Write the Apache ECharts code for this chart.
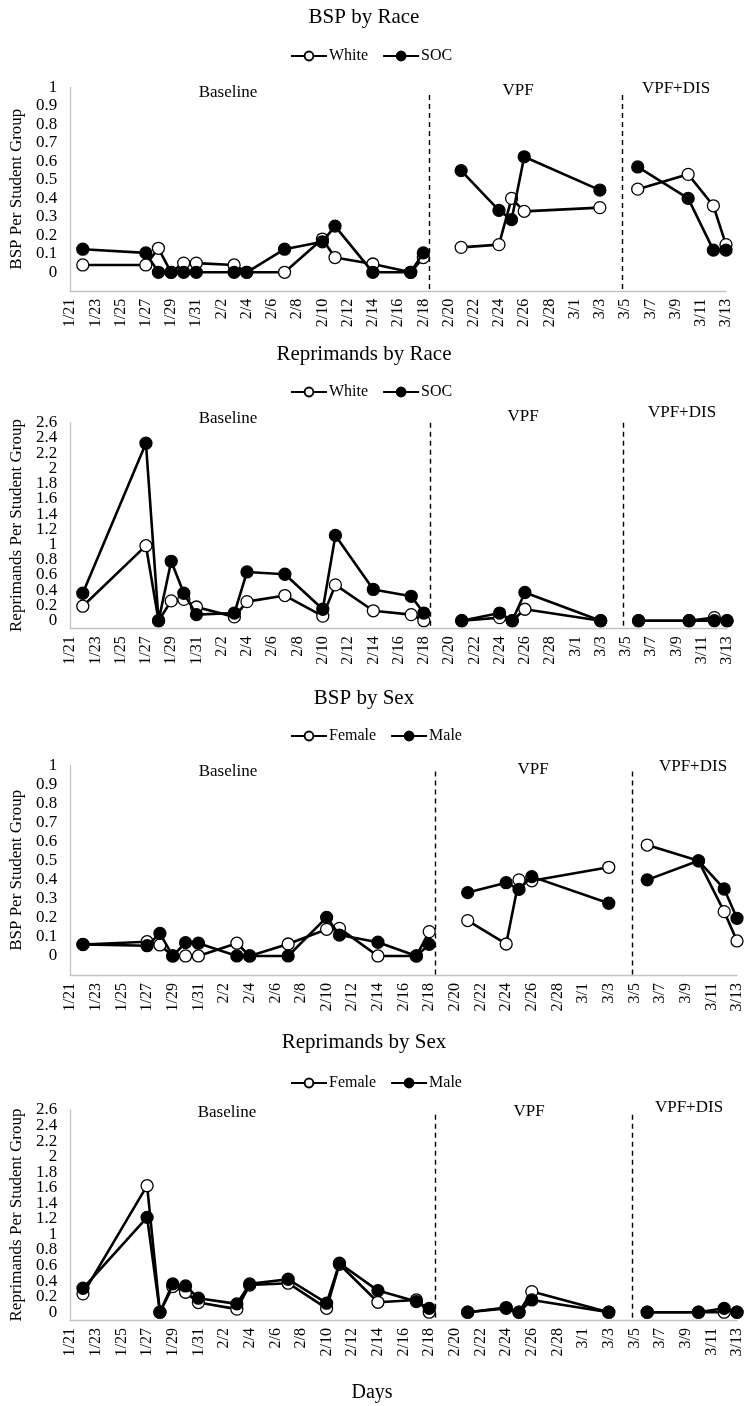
<!DOCTYPE html>
<html>
<head>
<meta charset="utf-8">
<title>BSP and Reprimands</title>
<script src="https://cdn.jsdelivr.net/npm/echarts@6/dist/echarts.min.js"></script>
<style>
  html, body { margin: 0; padding: 0; background: #fff; }
  #chart { width: 745px; height: 1406px; }
</style>
</head>
<body>
<div id="chart"></div>
<script>
// every calendar day on the x axis (leap year, so 2/29 is in)
var days = ['1/21', '1/22', '1/23', '1/24', '1/25', '1/26', '1/27', '1/28', '1/29', '1/30', '1/31',
    '2/1', '2/2', '2/3', '2/4', '2/5', '2/6', '2/7', '2/8', '2/9', '2/10', '2/11', '2/12', '2/13', '2/14',
    '2/15', '2/16', '2/17', '2/18', '2/19', '2/20', '2/21', '2/22', '2/23', '2/24', '2/25', '2/26', '2/27',
    '2/28', '2/29', '3/1', '3/2', '3/3', '3/4', '3/5', '3/6', '3/7', '3/8', '3/9', '3/10', '3/11', '3/12', '3/13'];

// observation days in each phase
var baselineDays = ['1/22', '1/27', '1/28', '1/29', '1/30', '1/31', '2/3', '2/4', '2/7', '2/10', '2/11', '2/14', '2/17', '2/18'];
var vpfDays = ['2/21', '2/24', '2/25', '2/26', '3/3'];
var disDays = ['3/6', '3/10', '3/12', '3/13'];
var phases = ['Baseline', 'VPF', 'VPF+DIS'];

// BSP by race
var bspWhite = [0.04, 0.04, 0.13, 0, 0.05, 0.05, 0.04, 0, 0, 0.18, 0.08, 0.045, 0, 0.08,
    0.135, 0.15, 0.40, 0.33, 0.35,
    0.45, 0.53, 0.36, 0.15];
var bspSoc = [0.125, 0.105, 0, 0, 0, 0, 0, 0, 0.125, 0.165, 0.25, 0, 0, 0.105,
    0.55, 0.335, 0.285, 0.625, 0.445,
    0.57, 0.40, 0.12, 0.12];

// reprimands by race
var repWhite = [0.19, 0.985, 0, 0.26, 0.28, 0.18, 0.05, 0.25, 0.33, 0.06, 0.47, 0.13, 0.08, 0,
    0, 0.04, 0, 0.15, 0,
    0, 0, 0.04, 0];
var repSoc = [0.36, 2.33, 0, 0.78, 0.36, 0.08, 0.1, 0.64, 0.61, 0.15, 1.12, 0.41, 0.32, 0.1,
    0, 0.1, 0, 0.37, 0,
    0, 0, 0, 0];

// BSP by sex
var bspFemale = [0.06, 0.075, 0.058, 0, 0, 0, 0.067, 0, 0.063, 0.14, 0.145, 0, 0, 0.128,
    0.186, 0.063, 0.40, 0.395, 0.466,
    0.583, 0.50, 0.233, 0.079];
var bspMale = [0.061, 0.054, 0.119, 0, 0.07, 0.067, 0, 0, 0, 0.203, 0.11, 0.072, 0, 0.061,
    0.333, 0.385, 0.35, 0.417, 0.277,
    0.40, 0.50, 0.352, 0.198];

// reprimands by sex
var repFemale = [0.236, 1.627, 0, 0.33, 0.257, 0.124, 0.04, 0.35, 0.373, 0.05, 0.617, 0.128, 0.158, 0,
    0, 0.05, 0, 0.265, 0,
    0, 0, 0, 0];
var repMale = [0.308, 1.22, 0, 0.364, 0.338, 0.18, 0.107, 0.364, 0.424, 0.116, 0.63, 0.278, 0.137, 0.05,
    0, 0.06, 0, 0.158, 0,
    0, 0, 0.05, 0];

var FONT = "'Liberation Serif', 'Times New Roman', serif";

// one entry per panel
var panels = [
    {title: 'BSP by Race', names: ['White', 'SOC'], values: [bspWhite, bspSoc], yName: 'BSP Per Student Group',
        max: 1, step: 0.1, grid: {left: 62, top: 87.5, width: 664, height: 203.3}, titleY: 17, legendY: 52,
        nameGap: 38, phaseX: [228, 518, 676], phaseY: [93, 91, 89], lineTop: 0.96},
    {title: 'Reprimands by Race', names: ['White', 'SOC'], values: [repWhite, repSoc], yName: 'Reprimands Per Student Group',
        max: 2.6, step: 0.2, grid: {left: 57.5, top: 422.7, width: 669.5, height: 205.6}, titleY: 354, legendY: 388,
        nameGap: 36, phaseX: [228, 523, 682], phaseY: [419, 417, 413], lineTop: 2.6},
    {title: 'BSP by Sex', names: ['Female', 'Male'], values: [bspFemale, bspMale], yName: 'BSP Per Student Group',
        max: 1, step: 0.1, grid: {left: 62, top: 765.7, width: 678, height: 209.3}, titleY: 698, legendY: 732,
        nameGap: 38, phaseX: [228, 533, 693], phaseY: [772, 770, 767], lineTop: 0.97},
    {title: 'Reprimands by Sex', names: ['Female', 'Male'], values: [repFemale, repMale], yName: 'Reprimands Per Student Group',
        max: 2.6, step: 0.2, grid: {left: 58, top: 1110, width: 683, height: 210}, titleY: 1042, legendY: 1079,
        nameGap: 36, phaseX: [227, 529, 689], phaseY: [1113, 1112, 1108], lineTop: 2.54}
];

// dashed phase-change lines sit between these day positions
var phaseChanges = [28.5, 43.8];

var phaseDays = [baselineDays, vpfDays, disDays];

function phasePoints(vals, p) {
    var start = 0;
    for (var k = 0; k < p; k++) start += phaseDays[k].length;
    return phaseDays[p].map(function (d, i) {
        return [days.indexOf(d), vals[start + i]];
    });
}

var grids = [], xAxes = [], yAxes = [], series = [], legends = [], graphics = [];

panels.forEach(function (pn, idx) {
    grids.push(pn.grid);
    xAxes.push({
        type: 'value', gridIndex: idx, min: 0, max: days.length - 1, interval: 2,
        axisLine: {show: true, onZero: false, lineStyle: {color: '#c4c4c4', width: 1.3}},
        axisTick: {show: false},
        splitLine: {show: false},
        axisLabel: {
            rotate: 90, margin: 8, fontFamily: FONT, fontSize: 16, color: '#000',
            formatter: function (v) { return days[v]; }
        }
    });
    yAxes.push({
        type: 'value', gridIndex: idx, min: -0.1, max: pn.max, interval: 0.1,
        name: pn.yName, nameLocation: 'middle', nameGap: pn.nameGap,
        nameTextStyle: {fontFamily: FONT, fontSize: 17, color: '#000'},
        axisLine: {show: true, lineStyle: {color: '#c4c4c4', width: 1.3}},
        axisTick: {show: false},
        splitLine: {show: false},
        axisLabel: {
            margin: 13, fontFamily: FONT, fontSize: 17, color: '#000',
            formatter: function (v) {
                var t = Math.round(v * 10);
                if (t < 0 || t % Math.round(pn.step * 10) !== 0) return '';
                return String(t / 10);
            }
        }
    });

    pn.names.forEach(function (name, s) {
        var filled = s === 1;
        for (var p = 0; p < phaseDays.length; p++) {
            var ser = {
                type: 'line', name: name, xAxisIndex: idx, yAxisIndex: idx,
                data: phasePoints(pn.values[s], p),
                symbol: 'circle', symbolSize: 12, showSymbol: true,
                lineStyle: {color: '#000', width: 2.6},
                itemStyle: {color: filled ? '#000' : '#fff', borderColor: '#000', borderWidth: 1.3},
                z: filled ? 3 : 2,
                animation: false, silent: true
            };
            if (s === 0 && p === 0) {
                ser.markLine = {
                    silent: true, symbol: ['none', 'none'], animation: false,
                    label: {show: false},
                    lineStyle: {color: '#000', type: [5, 4], width: 1.4},
                    data: phaseChanges.map(function (x) {
                        return [{coord: [x, pn.lineTop]}, {coord: [x, -0.1]}];
                    })
                };
            }
            series.push(ser);
        }
    });

    legends.push({
        data: pn.names, left: 285, top: pn.legendY - 9, selectedMode: false,
        itemWidth: 36, itemHeight: 11, itemGap: 14,
        textStyle: {fontFamily: FONT, fontSize: 16, color: '#000', padding: [0, 0, 0, -3]}
    });

    graphics.push({
        type: 'text', x: 364, y: pn.titleY,
        style: {text: pn.title, font: '21px ' + FONT, fill: '#000', align: 'center', verticalAlign: 'middle'}
    });
    phases.forEach(function (ph, k) {
        graphics.push({
            type: 'text', x: pn.phaseX[k], y: pn.phaseY[k],
            style: {text: ph, font: '17px ' + FONT, fill: '#000', align: 'center', verticalAlign: 'middle'}
        });
    });
});

graphics.push({
    type: 'text', x: 372, y: 1393,
    style: {text: 'Days', font: '20px ' + FONT, fill: '#000', align: 'center', verticalAlign: 'middle'}
});

var chart = echarts.init(document.getElementById('chart'));
chart.setOption({
    animation: false,
    backgroundColor: '#fff',
    grid: grids,
    xAxis: xAxes,
    yAxis: yAxes,
    legend: legends,
    series: series,
    graphic: graphics
});
</script>
</body>
</html>
